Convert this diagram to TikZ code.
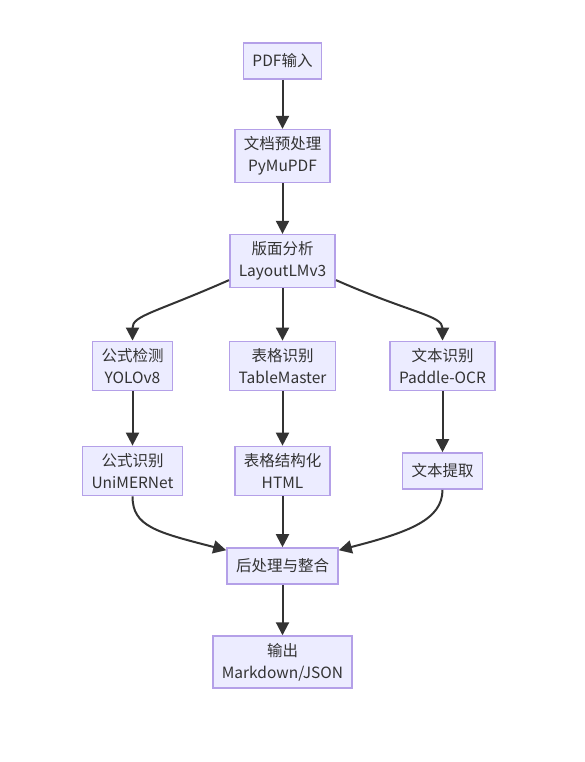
\documentclass[tikz,border=0pt]{standalone}
\usepackage{fontspec}
\setmainfont{Noto Sans CJK SC}
\usetikzlibrary{arrows.meta}
\definecolor{boxfill}{HTML}{ECECFF}
\definecolor{boxline}{HTML}{B4A0E8}
\definecolor{edgecol}{HTML}{333333}
\tikzset{
  stage/.style={draw=boxline, fill=boxfill, line width=1.6pt, align=center,
    inner xsep=9pt, inner ysep=7pt, minimum height=36pt,
    font=\fontsize{15.5}{22}\selectfont, text=edgecol},
  flow/.style={draw=edgecol, line width=2pt,
    -{Triangle[width=13pt,length=13pt]}}
}
\begin{document}
\begin{tikzpicture}[x=1pt,y=-1pt]
  \useasboundingbox[fill=white] (0,0) rectangle (585,762);
  % ---- nodes ----
  \node[stage] (pdf)    at (282.5,61)  {PDF输入};
  \node[stage] (prep)   at (282.5,156) {文档预处理\\PyMuPDF};
  \node[stage] (layout) at (282.5,261) {版面分析\\LayoutLMv3};
  \node[stage] (fdet)   at (132.5,366) {公式检测\\YOLOv8};
  \node[stage] (tdet)   at (282.5,366) {表格识别\\TableMaster};
  \node[stage] (ocr)    at (442.5,366) {文本识别\\Paddle-OCR};
  \node[stage] (frec)   at (132.5,471) {公式识别\\UniMERNet};
  \node[stage] (tstr)   at (282.5,471) {表格结构化\\HTML};
  \node[stage] (text)   at (442.5,471) {文本提取};
  \node[stage] (post)   at (282.5,566) {后处理与整合};
  \node[stage] (out)    at (282.5,662) {输出\\Markdown/JSON};
  % ---- straight edges ----
  \draw[flow] (pdf) -- (prep);
  \draw[flow] (prep) -- (layout);
  \draw[flow] (layout) -- (tdet);
  \draw[flow] (fdet) -- (frec);
  \draw[flow] (tdet) -- (tstr);
  \draw[flow] (ocr) -- (text);
  \draw[flow] (tstr) -- (post);
  \draw[flow] (post) -- (out);
  % ---- curved edges ----
  \draw[flow] ([yshift=8pt]layout.south west)
    .. controls +(-75,33) and +(0,-25) .. (fdet.north);
  \draw[flow] ([yshift=8pt]layout.south east)
    .. controls +(75,33) and +(0,-25) .. (ocr.north);
  \draw[flow] (frec.south)
    .. controls +(0,30) and +(-70,-18) .. ([yshift=-3pt]post.north west);
  \draw[flow] (text.south)
    .. controls +(0,30) and +(70,-18) .. ([yshift=-3pt]post.north east);
\end{tikzpicture}
\end{document}
